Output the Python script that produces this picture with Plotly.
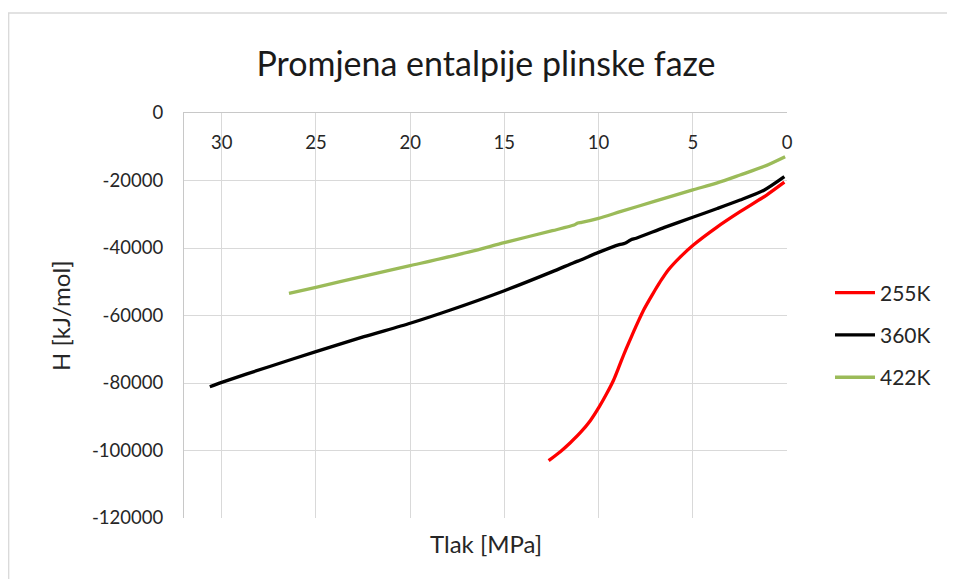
import plotly.graph_objects as go

# ---- data ----
p_255 = [12.65, 12.03, 11.5, 10.97, 10.44, 9.96, 9.56, 9.20, 8.94, 8.67, 8.41, 8.14, 7.90, 7.62, 7.30, 7.00, 6.65, 6.30, 5.67, 4.97, 3.73, 2.49, 1.08, 0.14]
h_255 = [-103000, -100350, -97690, -94730, -91170, -87020, -83060, -79100, -75500, -71700, -68250, -64800, -61800, -58500, -55300, -52450, -49300, -46500, -42700, -39110, -33870, -29240, -24300, -20500]

p_360 = [30.63, 30.0, 27.45, 25.0, 22.45, 20.0, 17.86, 15.0, 12.45, 11.32, 11.1, 10.0, 8.9, 8.6, 8.3, 8.0, 6.5, 5.0, 3.7, 2.49, 1.2, 0.14]
h_360 = [-81100, -79800, -75100, -70720, -66280, -62300, -58370, -52650, -47000, -44350, -43900, -41300, -39000, -38600, -37600, -37100, -33900, -30900, -28300, -25800, -22800, -18860]

p_422 = [26.43, 25.0, 22.5, 20.0, 16.8, 15.0, 12.45, 11.3, 11.1, 10.9, 10.0, 8.85, 7.0, 5.0, 3.7, 2.49, 1.2, 0.1]
h_422 = [-53430, -51650, -48400, -45240, -41100, -38400, -34870, -33200, -32600, -32400, -31200, -29240, -26100, -22800, -20700, -18370, -15800, -12940]

series_names = ["255K", "360K", "422K"]
series_colors = ["#FF0000", "#000000", "#9BBB59"]

x_ticks = [0, 5, 10, 15, 20, 25, 30]
y_ticks = [0, -20000, -40000, -60000, -80000, -100000, -120000]
y_tick_text = ["0", "-20000", "-40000", "-60000", "-80000", "-100000", "-120000"]

title_text = "Promjena entalpije plinske faze"
x_title = "Tlak [MPa]"
y_title = "H [kJ/mol]"

# ---- layout geometry (screen pixels; page has an 8px body margin) ----
OFF = 8
W, H = 955 - OFF, 579 - OFF
L, R, T, B = 184, 787, 113, 518   # plot area in screen coords
FONT = "Lato"
TXT = "#262626"
GRID = "#D9D9D9"

def px_x(x):
    return (x - L) / (R - L)

def px_y(y):
    return (B - y) / (B - T)

fig = go.Figure()
for i, (px_, hy) in enumerate([(p_255, h_255), (p_360, h_360), (p_422, h_422)]):
    fig.add_trace(go.Scatter(
        x=px_, y=hy, mode="lines", name=series_names[i],
        legendgroup=series_names[i],
        line=dict(color=series_colors[i], width=3.3, shape="spline", smoothing=0.7),
    ))

fig.update_layout(
    width=W, height=H,
    margin=dict(l=L - OFF, r=W - (R - OFF), t=T - OFF, b=H - (B - OFF), pad=0),
    paper_bgcolor="white", plot_bgcolor="white",
    font=dict(family=FONT, color=TXT, size=18),
    title=dict(text=title_text, x=(486 - OFF) / W, xanchor="center",
               y=1 - (64 - OFF) / H, yanchor="middle",
               font=dict(family=FONT, size=34, color="#1a1a1a")),
    showlegend=True,
    legend=dict(x=px_x(830), y=px_y(335), xanchor="left", yanchor="middle",
                font=dict(family=FONT, size=21, color=TXT), tracegroupgap=12,
                bgcolor="rgba(0,0,0,0)", itemwidth=40),
    xaxis=dict(range=[32, 0], side="top", tickvals=x_ticks, ticks="",
               ticklabelposition="inside", ticklabelstandoff=24,
               ticklabeloverflow="allow",
               showgrid=True, gridcolor=GRID, gridwidth=1.3,
               showline=True, linecolor="#C8C8C8", linewidth=1.3, zeroline=False,
               tickfont=dict(family=FONT, size=18.5, color=TXT)),
    yaxis=dict(range=[-120000, 1], tickvals=y_ticks, ticktext=y_tick_text, ticks="",
               ticklabelstandoff=16, ticklabeloverflow="allow",
               showgrid=True, gridcolor=GRID, gridwidth=1.3,
               showline=True, linecolor="#C8C8C8", linewidth=1.3, zeroline=False,
               tickfont=dict(family=FONT, size=18.5, color=TXT)),
    annotations=[
        dict(text=x_title, xref="paper", yref="paper", x=0.5, y=px_y(543),
             xanchor="center", yanchor="middle", showarrow=False,
             font=dict(family=FONT, size=24, color=TXT)),
        dict(text=y_title, xref="paper", yref="paper", x=px_x(60), y=px_y(316),
             xanchor="center", yanchor="middle", showarrow=False, textangle=-90,
             font=dict(family=FONT, size=24, color=TXT)),
    ],
    shapes=[
        dict(type="line", xref="paper", yref="paper", x0=px_x(8), x1=px_x(960),
             y0=px_y(13), y1=px_y(13), line=dict(color=GRID, width=1.3)),
        dict(type="line", xref="paper", yref="paper", x0=px_x(8.7), x1=px_x(8.7),
             y0=px_y(13), y1=px_y(590), line=dict(color=GRID, width=1.3)),
    ],
)

fig.write_html("out.html")
